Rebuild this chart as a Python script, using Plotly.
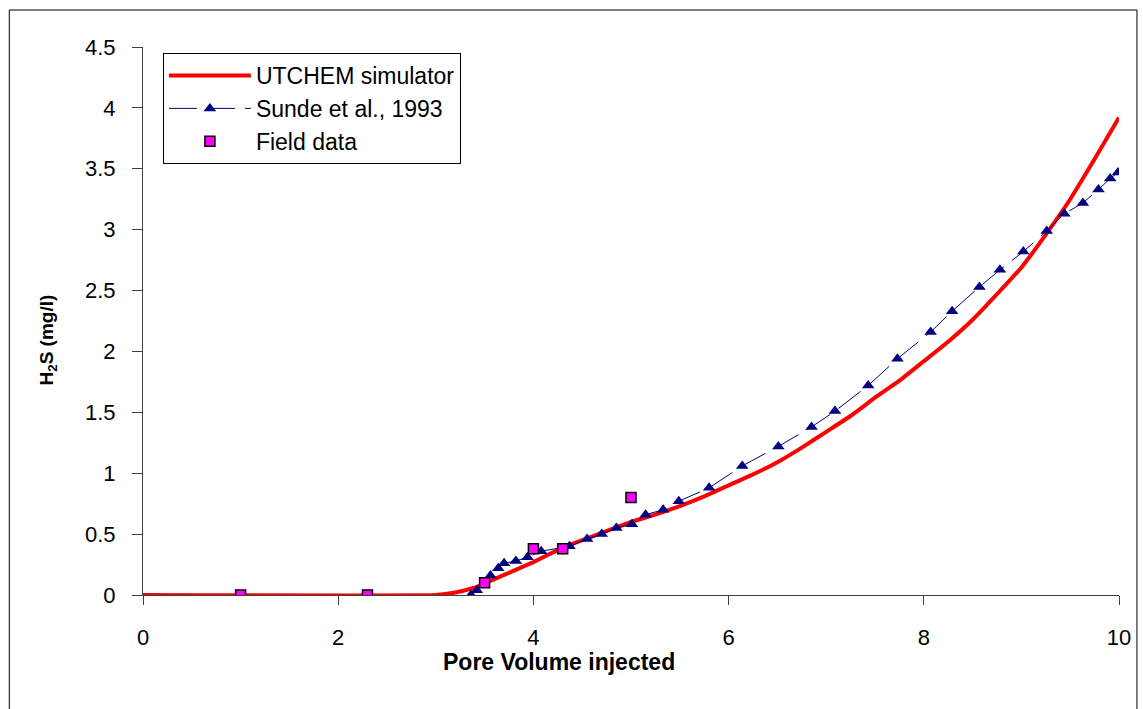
import plotly.graph_objects as go

# UTCHEM simulator curve
utchem_x = [0, 3.0, 3.2, 3.4, 3.6, 3.8, 4.0, 4.2, 4.4, 4.6, 4.8, 5.0, 5.25, 5.5, 5.75, 6.0, 6.25, 6.5, 6.75,
            7.0, 7.25, 7.5, 7.75, 8.0, 8.25, 8.5, 8.75, 9.0, 9.25, 9.5, 9.75, 10.0]
utchem_y = [0, 0, 0.02, 0.06, 0.13, 0.20, 0.27, 0.35, 0.42, 0.48, 0.54, 0.60, 0.66, 0.73, 0.81, 0.90, 0.99, 1.09, 1.21,
            1.34, 1.47, 1.62, 1.76, 1.92, 2.08, 2.26, 2.47, 2.69, 2.96, 3.25, 3.58, 3.92]

# Sunde et al., 1993
sunde_x = [3.36, 3.42, 3.56, 3.64, 3.70, 3.82, 3.94, 4.08, 4.37, 4.55, 4.70, 4.85, 5.01, 5.15, 5.33, 5.49,
           5.80, 6.14, 6.51, 6.85, 7.09, 7.43, 7.73, 8.07, 8.29, 8.57, 8.78, 9.02, 9.26, 9.44, 9.63, 9.79, 9.91, 9.99]
sunde_y = [0.00, 0.04, 0.16, 0.22, 0.26, 0.28, 0.31, 0.36, 0.40, 0.46, 0.50, 0.55, 0.58, 0.66, 0.70, 0.77,
           0.88, 1.06, 1.22, 1.38, 1.51, 1.72, 1.94, 2.16, 2.33, 2.53, 2.67, 2.82, 2.99, 3.13, 3.22, 3.33, 3.42, 3.47]

# Field data
field_x = [1.0, 2.3, 3.5, 4.0, 4.3, 5.0]
field_y = [0, 0, 0.1, 0.38, 0.38, 0.8]

FONT = "Liberation Sans, Arial, sans-serif"

fig = go.Figure()
fig.add_trace(go.Scatter(
    x=utchem_x, y=utchem_y, mode="lines", name="UTCHEM simulator",
    line=dict(color="#FF0000", width=4, shape="spline", smoothing=0.3),
    legendgroup="a"))
fig.add_trace(go.Scatter(
    x=sunde_x, y=sunde_y, mode="lines+markers", name="Sunde et al., 1993",
    line=dict(color="#000080", width=1, dash="28px,10px"),
    marker=dict(symbol="triangle-up", size=11, color="#000080"),
    legendgroup="b"))
fig.add_trace(go.Scatter(
    x=field_x, y=field_y, mode="markers", name="Field data",
    marker=dict(symbol="square", size=10, color="#FF00FF", line=dict(color="black", width=1.5)),
    legendgroup="c"))

axis_color = "#404040"
fig.update_layout(
    width=1143, height=709,
    margin=dict(l=143, r=22, t=47, b=114),
    plot_bgcolor="white", paper_bgcolor="white",
    font=dict(family=FONT, color="black"),
    showlegend=True,
    legend=dict(
        x=0.0204, y=0.989, xanchor="left", yanchor="top",
        bordercolor="black", borderwidth=1, bgcolor="white",
        font=dict(family=FONT, size=23, color="black"),
        itemwidth=82, tracegroupgap=0,
    ),
    xaxis=dict(
        range=[0, 10], dtick=2, tick0=0, showgrid=False, zeroline=False,
        showline=True, linecolor=axis_color, linewidth=1,
        ticks="outside", ticklen=9, tickcolor=axis_color,
        tickfont=dict(family=FONT, size=22, color="black"),
        ticklabelstandoff=14,
    ),
    yaxis=dict(
        range=[0, 4.5], dtick=0.5, tick0=0, showgrid=False, zeroline=False,
        showline=True, linecolor=axis_color, linewidth=1,
        ticks="outside", ticklen=10, tickcolor=axis_color,
        tickfont=dict(family=FONT, size=22, color="black"),
        ticklabelstandoff=12,
    ),
    annotations=[
        dict(text="<b>Pore Volume injected</b>", xref="paper", yref="paper",
             x=0.426, y=-0.122, xanchor="center", yanchor="middle", showarrow=False,
             font=dict(family=FONT, size=23, color="black")),
        dict(text="<b>H<sub>2</sub>S (mg/l)</b>", xref="paper", yref="paper",
             x=-0.097, y=0.465, xanchor="center", yanchor="middle", showarrow=False,
             textangle=-90, font=dict(family=FONT, size=19, color="black")),
    ],
    shapes=[
        dict(type="rect", xref="paper", yref="paper", x0=-0.137, x1=1.0184, y0=-0.25, y1=1.0675,
             line=dict(color="black", width=1), fillcolor="rgba(0,0,0,0)", layer="below"),
    ],
)

fig.write_html("out.html")
